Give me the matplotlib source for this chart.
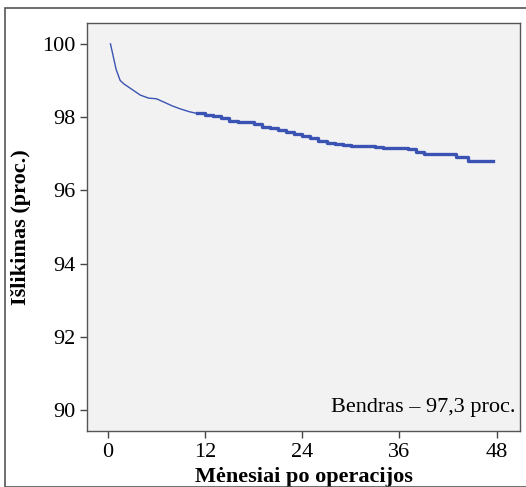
import numpy as np
import matplotlib
matplotlib.use('Agg')
import matplotlib.pyplot as plt
from matplotlib.patches import Rectangle

# duomenys (menesiai, isgyvenamumas proc.)
menesiai = [0.3, 0.6, 1.0, 1.5, 2.0, 3.0, 4.0, 5.0, 6.0, 7.0, 8.0, 9.0, 10.0, 11.0,
            12.0, 13.0, 14.0, 15.0, 16.0, 17.0, 18.0, 19.0, 20.0, 21.0, 22.0, 23.0,
            24.0, 25.0, 26.0, 27.0, 28.0, 29.0, 30.0, 31.0, 32.0, 33.0, 34.0, 35.0,
            36.0, 37.0, 38.0, 39.0, 40.0, 42.5, 43.0, 44.5, 47.6]
islikimas = [100.0, 99.7, 99.3, 99.0, 98.9, 98.75, 98.6, 98.52, 98.5, 98.4, 98.3,
             98.22, 98.15, 98.1, 98.07, 98.04, 97.97, 97.9, 97.88, 97.86, 97.8,
             97.74, 97.7, 97.64, 97.6, 97.53, 97.48, 97.42, 97.35, 97.28, 97.26,
             97.24, 97.22, 97.2, 97.2, 97.19, 97.17, 97.15, 97.15, 97.12, 97.05,
             97.0, 97.0, 97.0, 96.9, 96.8, 96.8]
x_ticks = [0, 12, 24, 36, 48]
y_ticks = [90, 92, 94, 96, 98, 100]
anotacija = 'Bendras – 97,3 proc.'

plt.rcParams['font.family'] = ['Liberation Serif', 'DejaVu Serif']

t = np.array(menesiai)
s = np.array(islikimas)
spalva = '#3b54b3'

fig = plt.figure(figsize=(5.26, 4.87), dpi=100)
fig.patches.append(Rectangle((5/526, 0), 1, 1 - 8/487, transform=fig.transFigure,
                             fill=False, edgecolor='#555555', linewidth=1.2))
ax = fig.add_axes([87/526, 1 - 431/487, 433/526, 408/487])
ax.set_facecolor('#f2f2f2')

# pradzioje daug mazu laiptu - atrodo kaip tolydi linija
plona = t <= 11
ax.plot(t[plona], s[plona], color=spalva, linewidth=1.0)
ax.step(t[t >= 11], s[t >= 11], where='post', color=spalva, linewidth=2.4)

ax.set_xlim(-2.6, 50.9)
ax.set_ylim(89.43, 100.57)
ax.set_xticks(x_ticks)
ax.set_yticks(y_ticks)
ax.tick_params(direction='out', length=5, width=1, labelsize=16, color='#444444')
for sp in ax.spines.values():
    sp.set_color('#555555')
    sp.set_linewidth(1.0)

ax.text(0.99, 0.035, anotacija, transform=ax.transAxes, ha='right', va='bottom', fontsize=16)
ax.set_xlabel('Mėnesiai po operacijos', fontsize=16, fontweight='bold', labelpad=4)
ax.set_ylabel('Išlikimas (proc.)', fontsize=16, fontweight='bold', labelpad=8)

plt.savefig('out.png', dpi=100)
